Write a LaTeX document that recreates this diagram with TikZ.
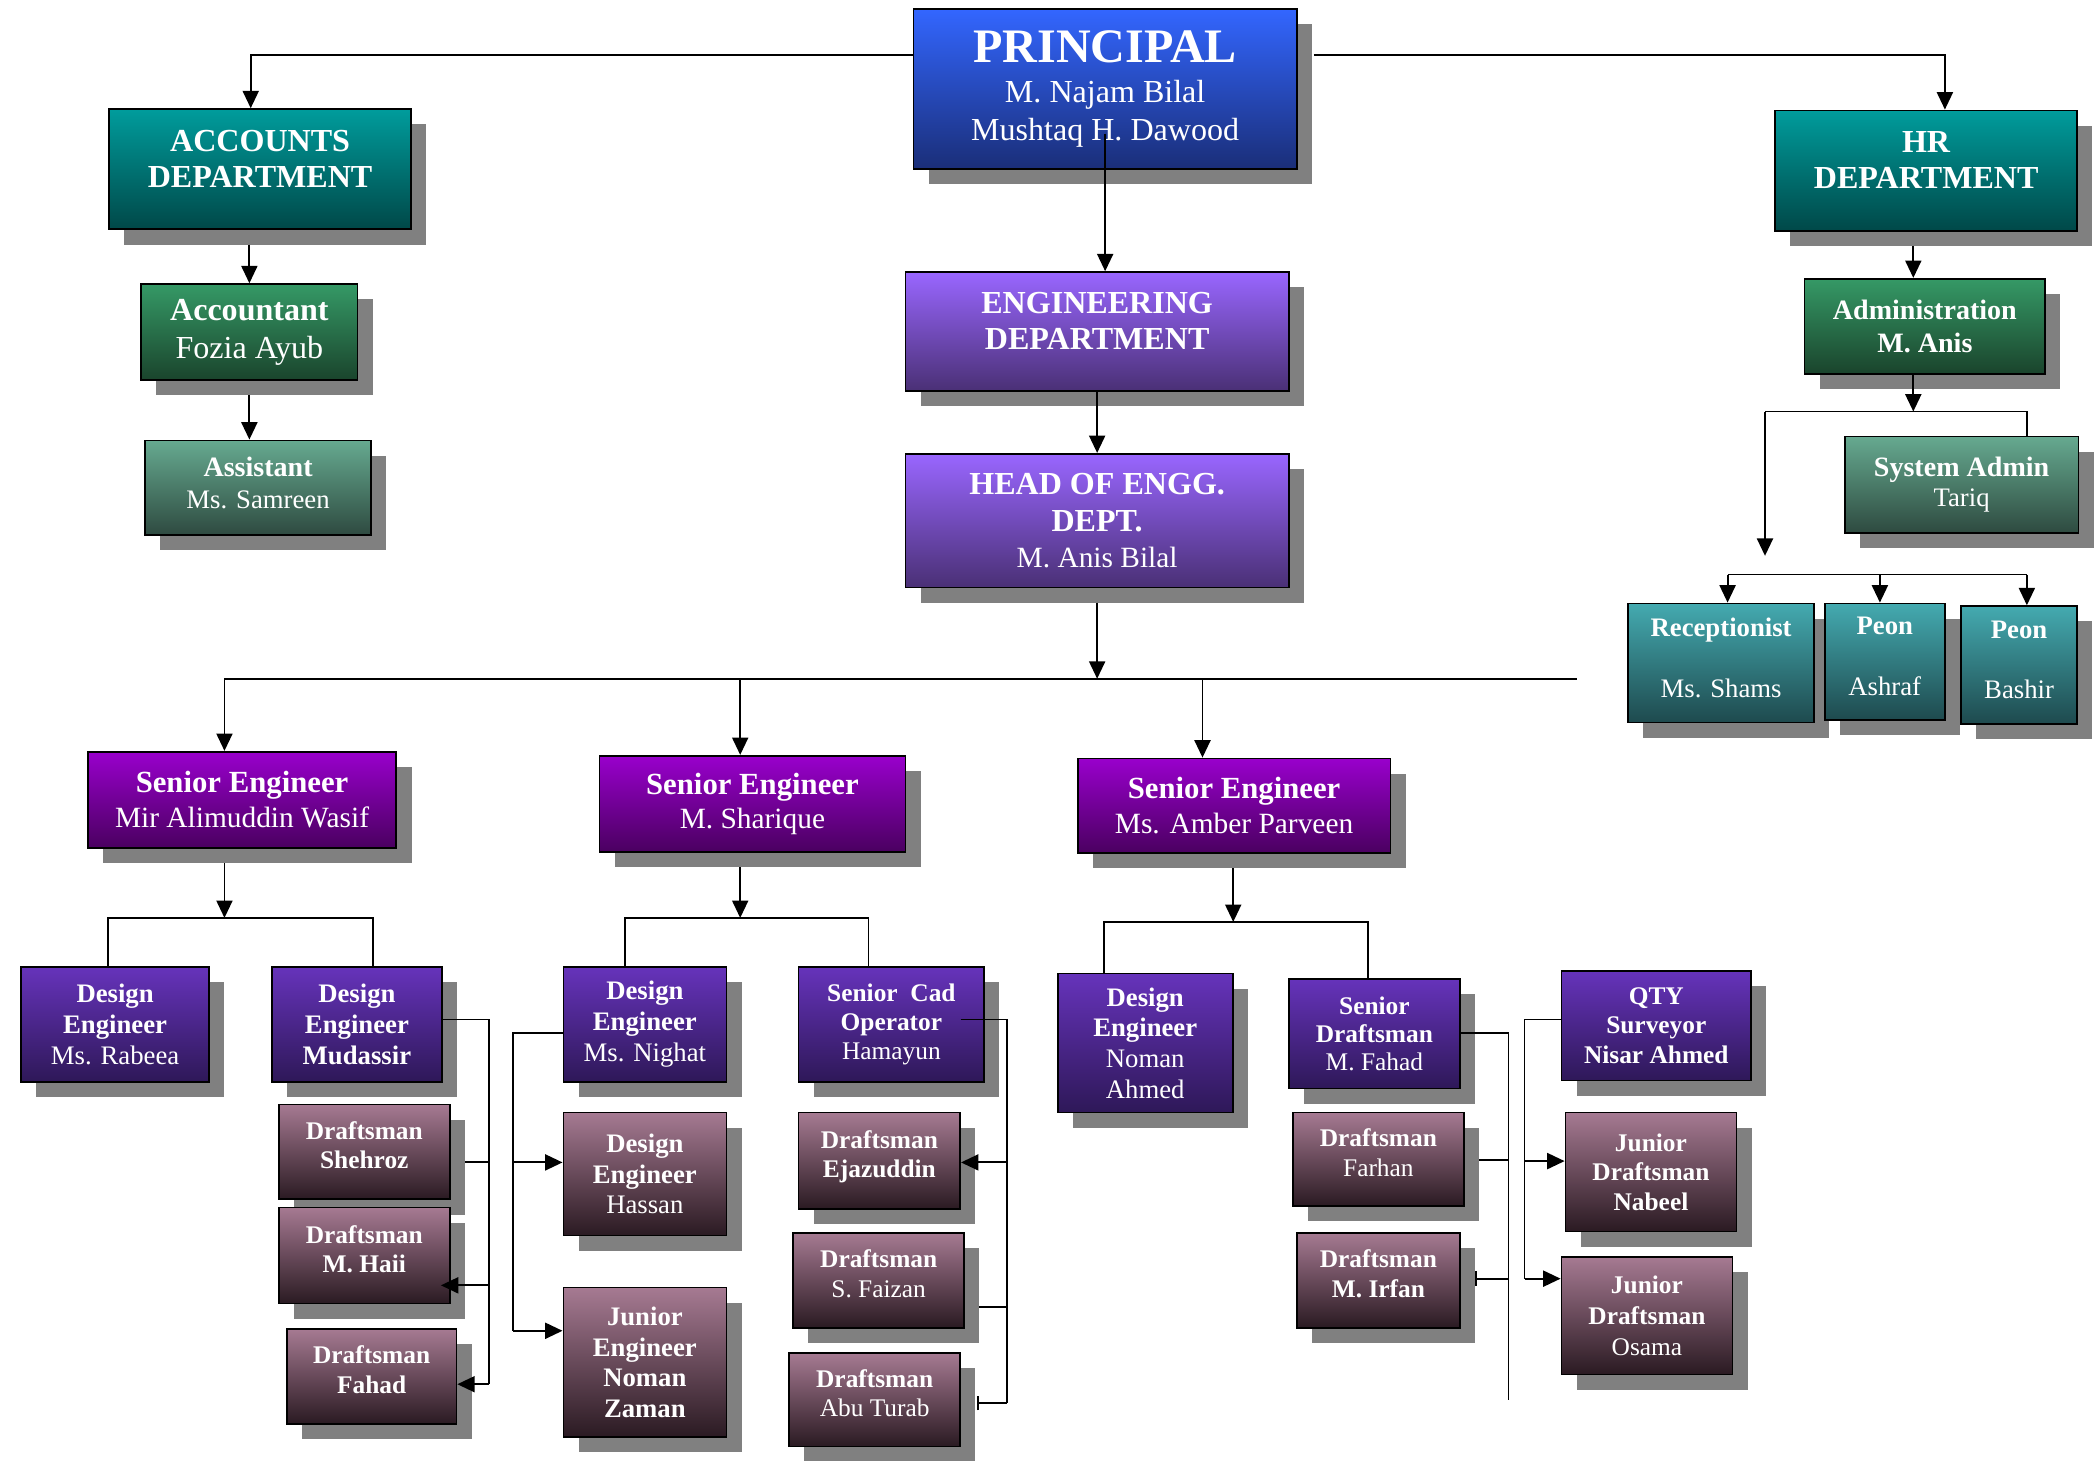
\documentclass[tikz,border=0pt]{standalone}
\usepackage{fontspec}
\setmainfont{Liberation Serif}
\usetikzlibrary{arrows.meta,calc}
\definecolor{shadowc}{HTML}{808080}
\definecolor{blueT}{HTML}{3366FF}\definecolor{blueB}{HTML}{1A2E78}
\definecolor{tealT}{HTML}{009C9C}\definecolor{tealB}{HTML}{004848}
\definecolor{grnT}{HTML}{359966}\definecolor{grnB}{HTML}{1A442C}
\definecolor{lgrT}{HTML}{66AA90}\definecolor{lgrB}{HTML}{2E4A40}
\definecolor{purT}{HTML}{9966FF}\definecolor{purB}{HTML}{4A3075}
\definecolor{magT}{HTML}{9900CC}\definecolor{magB}{HTML}{4A0060}
\definecolor{indT}{HTML}{6633BB}\definecolor{indB}{HTML}{2E1858}
\definecolor{mauT}{HTML}{A67A92}\definecolor{mauB}{HTML}{2A1A22}
\definecolor{cyaT}{HTML}{44AAB0}\definecolor{cyaB}{HTML}{1E4A4E}
\tikzset{
  box/.style={draw=black,line width=1.3pt,text=white,align=center,inner sep=0pt},
  ln/.style={line width=1.4pt},
  arr/.style={line width=1.4pt,-{Triangle[length=13pt,width=12pt]}},
  barend/.style={line width=1.4pt,{Bar[width=11pt]}-},
  blueg/.style={top color=blueT,bottom color=blueB},
  tealg/.style={top color=tealT,bottom color=tealB},
  grng/.style={top color=grnT,bottom color=grnB},
  lgrg/.style={top color=lgrT,bottom color=lgrB},
  purg/.style={top color=purT,bottom color=purB},
  magg/.style={top color=magT,bottom color=magB},
  indg/.style={top color=indT,bottom color=indB},
  maug/.style={top color=mauT,bottom color=mauB},
  cyag/.style={top color=cyaT,bottom color=cyaB},
  fdept/.style={font=\fontsize{24}{27}\selectfont},
  facct/.style={font=\fontsize{24}{28}\selectfont},
  fse/.style={font=\fontsize{23}{26}\selectfont},
  fadm/.style={font=\fontsize{21}{25}\selectfont},
  fsm/.style={font=\fontsize{20}{23}\selectfont},
  fdr/.style={font=\fontsize{19}{22}\selectfont},
  raise/.style={text depth=#1},
}
\newcommand{\obox}[7]{%
  \fill[shadowc] ({#2+12},{#3+12}) rectangle ({#2+#4+12},{#3+#5+12});
  \node[box,#6,anchor=north west,minimum width=#4pt,minimum height=#5pt] (#1) at (#2,#3) {#7};
}
\begin{document}
\begin{tikzpicture}[x=1pt,y=-1pt]
\useasboundingbox (0,0) rectangle (1568,1093);
% ---------- top level
\obox{prin}{683}{6}{287}{120}{blueg,facct}{{\fontsize{36}{36}\selectfont\textbf{PRINCIPAL}}\\[2pt]M. Najam Bilal\\Mushtaq H. Dawood}
\obox{acc}{81}{81}{226}{90}{tealg,fdept,raise=16pt}{\textbf{ACCOUNTS}\\\textbf{DEPARTMENT}}
\obox{acct}{105}{212}{162}{72}{grng,facct}{\textbf{Accountant}\\Fozia Ayub}
\obox{asst}{108}{329}{169}{71}{lgrg,font=\fontsize{20}{24}\selectfont,raise=8pt}{{\fontsize{21}{24}\selectfont\textbf{Assistant}}\\Ms. Samreen}
\obox{eng}{677}{203}{287}{89}{purg,fdept,raise=16pt}{\textbf{ENGINEERING}\\\textbf{DEPARTMENT}}
\obox{head}{677}{339}{287}{100}{purg,fdept}{\textbf{HEAD OF ENGG.}\\\textbf{DEPT.}\\{\fontsize{22}{27}\selectfont M. Anis Bilal}}
\obox{hr}{1328}{82}{226}{90}{tealg,fdept,raise=16pt}{\textbf{HR}\\\textbf{DEPARTMENT}}
\obox{adm}{1350}{208}{180}{71}{grng,fadm}{\textbf{Administration}\\\textbf{M. Anis}}
\obox{sys}{1380}{326}{175}{72}{lgrg,font=\fontsize{21}{23}\selectfont}{\textbf{System Admin}\\{\fontsize{20}{23}\selectfont Tariq}}
\obox{rec}{1218}{451}{139}{89}{cyag,fsm,raise=8pt}{\textbf{Receptionist}\\[23pt]Ms. Shams}
\obox{peonA}{1365}{451}{90}{87}{cyag,fsm,raise=8pt}{\textbf{Peon}\\[23pt]Ashraf}
\obox{peonB}{1467}{453}{87}{88}{cyag,fsm,raise=8pt}{\textbf{Peon}\\[22pt]Bashir}
% ---------- senior engineers
\obox{seA}{65}{562}{231}{72}{magg,fse}{\textbf{Senior Engineer}\\{\fontsize{22}{26}\selectfont Mir Alimuddin Wasif}}
\obox{seB}{448}{565}{229}{72}{magg,fse}{\textbf{Senior Engineer}\\{\fontsize{22}{26}\selectfont M. Sharique}}
\obox{seC}{806}{567}{234}{71}{magg,fse}{\textbf{Senior Engineer}\\{\fontsize{22}{26}\selectfont Ms. Amber Parveen}}
% ---------- group A
\obox{rab}{15}{723}{141}{86}{indg,fsm}{\textbf{Design}\\\textbf{Engineer}\\Ms. Rabeea}
\obox{mud}{203}{723}{127}{86}{indg,fsm}{\textbf{Design}\\\textbf{Engineer}\\\textbf{Mudassir}}
\obox{sheh}{208}{826}{128}{71}{maug,fdr,raise=10pt}{\textbf{Draftsman}\\\textbf{Shehroz}}
\obox{haii}{208}{903}{128}{72}{maug,fdr,raise=10pt}{\textbf{Draftsman}\\\textbf{M. Haii}}
\obox{fah}{214}{994}{127}{71}{maug,fdr,raise=10pt}{\textbf{Draftsman}\\\textbf{Fahad}}
% ---------- group B
\obox{nig}{421}{723}{122}{86}{indg,fsm}{\textbf{Design}\\\textbf{Engineer}\\Ms. Nighat}
\obox{hass}{421}{832}{122}{92}{maug,fsm}{\textbf{Design}\\\textbf{Engineer}\\Hassan}
\obox{jeng}{421}{963}{122}{112}{maug,fsm}{\textbf{Junior}\\\textbf{Engineer}\\\textbf{Noman}\\\textbf{Zaman}}
\obox{cad}{597}{723}{139}{86}{indg,fdr}{\textbf{Senior\enspace Cad}\\\textbf{Operator}\\Hamayun}
\obox{ejaz}{597}{832}{121}{72}{maug,fdr,raise=10pt}{\textbf{Draftsman}\\\textbf{Ejazuddin}}
\obox{faiz}{593}{922}{128}{71}{maug,fdr,raise=10pt}{\textbf{Draftsman}\\S. Faizan}
\obox{abu}{590}{1012}{128}{70}{maug,fdr,raise=10pt}{\textbf{Draftsman}\\Abu Turab}
% ---------- group C
\obox{noma}{791}{728}{131}{104}{indg,fsm}{\textbf{Design}\\\textbf{Engineer}\\Noman\\Ahmed}
\obox{sdr}{964}{732}{128}{82}{indg,font=\fontsize{19}{21}\selectfont}{\textbf{Senior}\\\textbf{Draftsman}\\M. Fahad}
\obox{farh}{967}{832}{128}{70}{maug,fdr,raise=10pt}{\textbf{Draftsman}\\Farhan}
\obox{irf}{970}{922}{122}{71}{maug,fdr,raise=10pt}{\textbf{Draftsman}\\\textbf{M. Irfan}}
\obox{qty}{1168}{726}{142}{82}{indg,fdr}{\textbf{QTY}\\\textbf{Surveyor}\\\textbf{Nisar Ahmed}}
\obox{nab}{1171}{832}{128}{89}{maug,fdr}{\textbf{Junior}\\\textbf{Draftsman}\\\textbf{Nabeel}}
\obox{osa}{1168}{940}{128}{88}{maug,font=\fontsize{19}{23}\selectfont}{\textbf{Junior}\\\textbf{Draftsman}\\Osama}
% ---------- connectors (top)
\draw[arr] (prin.west |- 0,41) -| ($(acc.north)+(-7,0)$);
\draw[arr] ($(prin.east |- 0,41)+(12,0)$) -| ($(hr.north)+(14,0)$);
\draw[arr] (prin.center |- 0,100) -- (prin.center |- eng.north);
\draw[arr] (acct.north |- 0,183) -- (acct.north);
\draw[arr] (acct.north |- 0,296) -- (acct.north |- asst.north);
\draw[arr] (eng.south) -- (head.north);
\coordinate (bar) at (head.south |- 0,508);
\draw[arr] (head.south |- 0,451) -- (bar);
\draw[ln] (bar -| 168,0) -- (bar -| 1180,0);
\draw[arr] (bar -| 168,0) -- (seA.north -| 168,0);
\draw[arr] (bar -| 554,0) -- (seB.north -| 554,0);
\draw[arr] (bar -| 900,0) -- (seC.north -| 900,0);
% HR side
\coordinate (hrtop) at (1432,184);
\draw[arr] (hrtop) -- (adm.north -| hrtop);
\coordinate (hrj) at (1432,308);
\draw[arr] (adm.south -| hrj) -- (hrj);
\draw[ln] (sys.north -| 1517,0) |- (hrj -| 1321,0);
\draw[arr] (hrj -| 1321,0) -- (1321,416);
\draw[ln] (1293,430) -- (1517,430);
\draw[arr] (1293,430) -- (rec.north -| 1293,0);
\draw[arr] (1407,430) -- (peonA.north -| 1407,0);
\draw[arr] (1517,430) -- (peonB.north -| 1517,0);
% group A
\draw[arr] (168,646) -- (168,687);
\draw[ln] (rab.north -| 81,0) |- (279,687) -- (mud.north -| 279,0);
\draw[ln] (mud.east |- 0,763) -- (366,763) -- (366,1036);
\draw[ln] (366,870) -- (348,870);
\draw[arr] (366,962) -- (330,962);
\draw[arr] (366,1036) -- (fah.east |- 0,1036);
\draw[ln] (nig.west |- 0,773) -- (384,773) -- (384,996);
\draw[arr] (384,870) -- (hass.west |- 0,870);
\draw[arr] (384,996) -- (jeng.west |- 0,996);
% group B
\draw[arr] (554,649) -- (554,687);
\draw[ln] (nig.north -| 468,0) |- (650,687) -- (cad.north -| 650,0);
\draw[ln] (719,763) -- (754,763) -- (754,1050);
\draw[arr] (754,870) -- (ejaz.east |- 0,870);
\draw[ln] (754,978) -- (733,978);
\draw[barend] (731,1050) -- (754,1050);
% group C
\draw[arr] (923,650) -- (923,690);
\draw[ln] (noma.north -| 826,0) |- (1024,690) -- (sdr.north -| 1024,0);
\draw[ln] (sdr.east |- 0,773) -- (1129,773) -- (1129,1048);
\draw[ln] (1107,868) -- (1129,868);
\draw[barend] (1104,957) -- (1129,957);
\draw[ln] (qty.west |- 0,763) -- (1141,763) -- (1141,957);
\draw[arr] (1141,869) -- (nab.west |- 0,869);
\draw[arr] (1141,957) -- (osa.west |- 0,957);
\end{tikzpicture}
\end{document}
